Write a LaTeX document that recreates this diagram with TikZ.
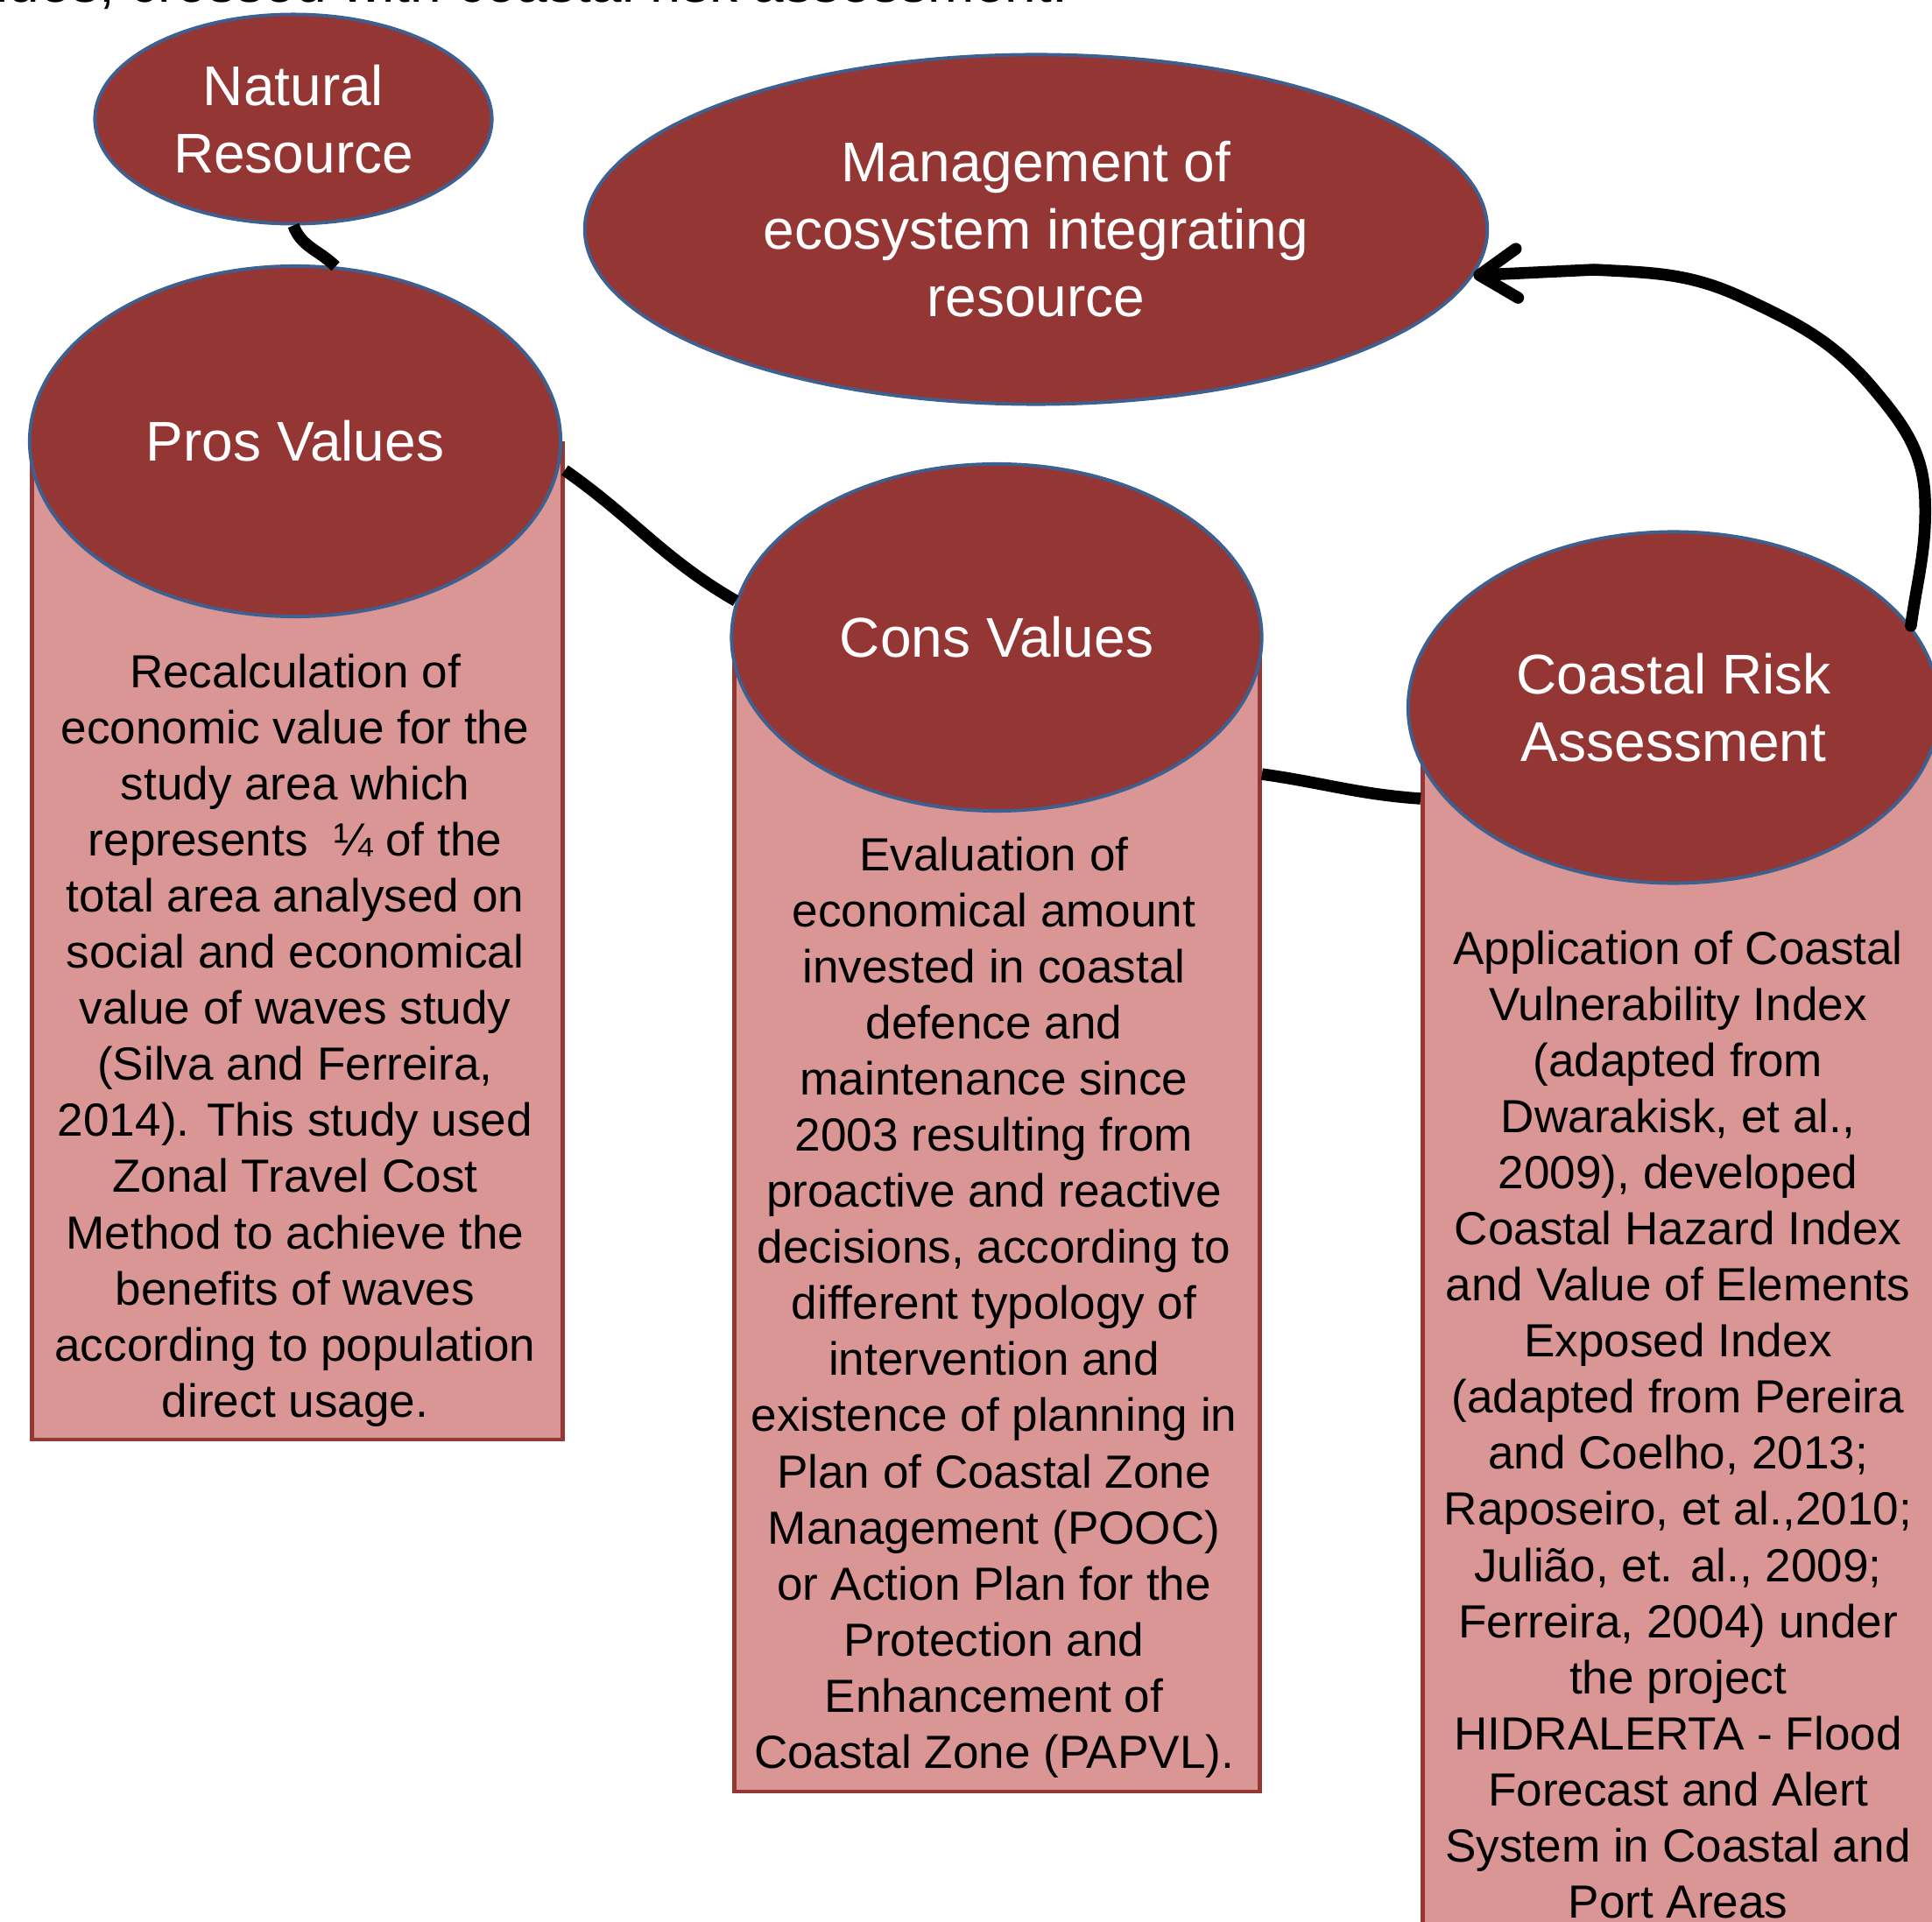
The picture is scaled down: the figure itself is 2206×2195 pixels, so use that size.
\documentclass[tikz,border=0pt]{standalone}
\usepackage{fontspec}
\setmainfont{Liberation Sans}
\usepackage{tikz}
\usetikzlibrary{shapes.geometric}
\usetikzlibrary{arrows.meta}

\definecolor{bubblered}{HTML}{943634}
\definecolor{bubbleedge}{HTML}{3D6090}
\definecolor{boxpink}{HTML}{D99694}
\definecolor{boxedge}{HTML}{953735}

\begin{document}
\begin{tikzpicture}[x=0.01cm,y=0.01cm,font=\fontsize{15.1}{18.2}\selectfont,
    % styles
    topic/.style={ellipse,fill=bubblered,draw=bubbleedge,line width=1.1pt,
      text=white,inner sep=0pt,align=center,font=\fontsize{18.2}{21.9}\selectfont},
    column/.style={rectangle,fill=boxpink,draw=boxedge,line width=1.3pt,
      anchor=north west,inner sep=0pt},
    column text/.style={anchor=base,align=center,inner sep=0pt},
    link/.style={line width=0.135cm},
    feedback/.style={link,line cap=round,line join=round,
      -{Straight Barb[length=4.3mm,width=5.6mm,round]}}]

  \useasboundingbox (0,0) rectangle (2206,-2195);
  \clip (0,0) rectangle (2206,-2195);

  % caption remnant
  \node[anchor=base east,inner sep=0pt,font=\fontsize{18.2}{21.9}\selectfont]
    (caption) at (1220,-3) {values, crossed with coastal risk assessment.};

  % columns
  \node[column,minimum width=6.06cm,minimum height=11.37cm] (prosbox) at (34,-504) {};
  \node[column,minimum width=6.00cm,minimum height=13.15cm] (consbox) at (836,-728) {};
  \node[column,minimum width=5.90cm,minimum height=15cm] (coastbox) at (1622,-808) {};

  % topics
  \node[topic,minimum width=4.53cm,minimum height=2.39cm] (natural) at (335,-136)
    {Natural\\Resource};
  \node[topic,minimum width=10.30cm,minimum height=3.99cm] (mgmt) at (1183,-262)
    {Management of\\ecosystem integrating\\resource};
  \node[topic,minimum width=6.06cm,minimum height=4.00cm] (pros) at (337,-504)
    {Pros Values};
  \node[topic,minimum width=6.05cm,minimum height=3.96cm] (cons) at (1138,-728)
    {Cons Values};
  \node[topic,minimum width=6.06cm,minimum height=4.01cm] (coast) at (1911,-808)
    {Coastal Risk\\Assessment};

  % column texts (placed by the baseline of the last line)
  \node[column text] (prostext) at (337,-1618)
    {Recalculation of\\economic value for the\\study area which\\
     represents \ ¼ of the\\total area analysed on\\social and economical\\
     value of waves study\\(Silva and Ferreira,\\2014). This study used\\
     Zonal Travel Cost\\Method to achieve the\\benefits of waves\\
     according to population\\direct usage.};
  \node[column text] (constext) at (1135,-2019)
    {Evaluation of\\economical amount\\invested in coastal\\defence and\\
     maintenance since\\2003 resulting from\\proactive and reactive\\
     decisions, according to\\different typology of\\intervention and\\
     existence of planning in\\Plan of Coastal Zone\\Management (POOC)\\
     or Action Plan for the\\Protection and\\Enhancement of\\
     Coastal Zone (PAPVL).};
  \node[column text] (coasttext) at (1916,-2190)
    {Application of Coastal\\Vulnerability Index\\(adapted from\\
     Dwarakisk, et al.,\\2009), developed\\Coastal Hazard Index\\
     and Value of Elements\\Exposed Index\\(adapted from Pereira\\
     and Coelho, 2013;\\Raposeiro, et al.,2010;\\Julião, et. al., 2009;\\
     Ferreira, 2004) under\\the project\\HIDRALERTA - Flood\\
     Forecast and Alert\\System in Coastal and\\Port Areas};

  % links
  \draw[link] (natural.south) to[out=-70,in=135] (pros.77);
  \draw[link] ([yshift=-0.33cm]prosbox.north east) to[out=-35,in=150] (cons.172);
  \draw[link] ([yshift=-1.56cm]consbox.north east) to[out=-8,in=176]
    ([yshift=-1.04cm]coastbox.north west);

  % feedback arrow
  \draw[feedback] (coast.19) to[out=82,in=-88] (2198,-570)
    to[out=92,in=-50] (2140,-445) to[out=130,in=-25] (1990,-340)
    to[out=155,in=-3] (1820,-308) -- (mgmt.-6);
\end{tikzpicture}
\end{document}
